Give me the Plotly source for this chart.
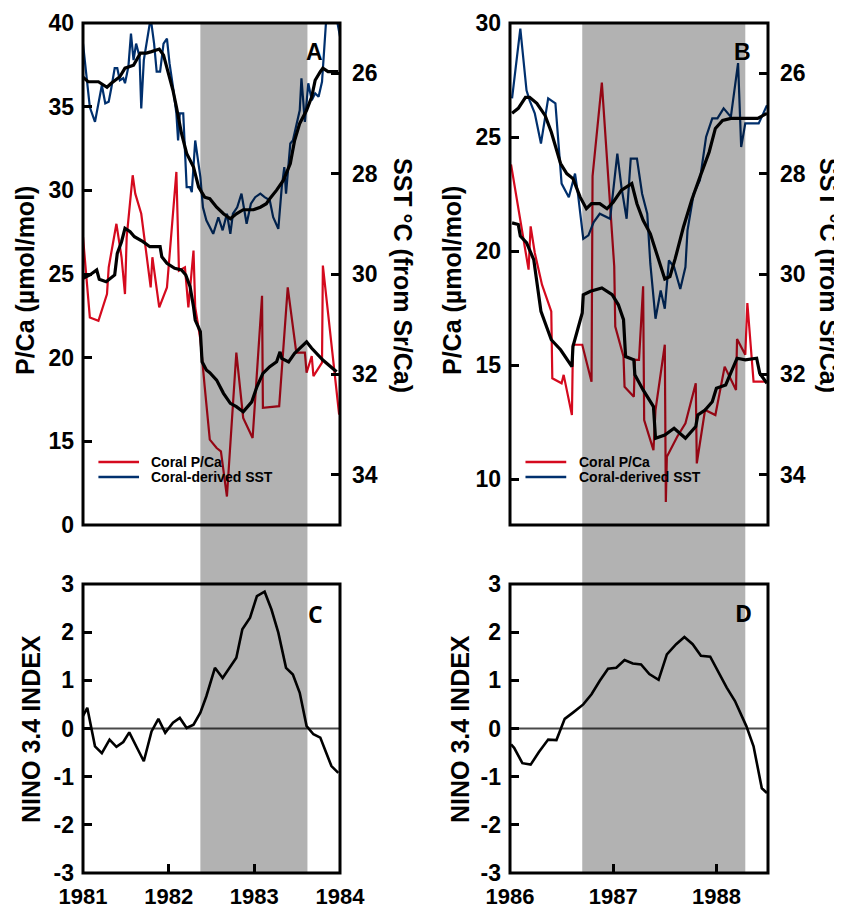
import plotly.graph_objects as go

# ---------------- data ----------------
A_PCA_T = [1981.00,1981.08,1981.18,1981.28,1981.30,1981.39,1981.45,1981.49,1981.51,1981.58,1981.61,1981.68,1981.74,1981.79,1981.81,1981.89,1981.98,1982.09,1982.12,1982.19,1982.23,1982.29,1982.31,1982.37,1982.42,1982.48,1982.56,1982.61,1982.68,1982.79,1982.87,1982.98,1983.09,1983.10,1983.29,1983.39,1983.49,1983.59,1983.61,1983.67,1983.69,1983.79,1983.80,1983.94,1983.99]
A_PCA_V = [27.2,22.4,22.2,23.8,25.4,28.0,26.0,23.8,27.2,30.9,29.8,28.6,26.2,24.2,26.0,23.0,24.2,31.1,25.2,25.4,23.0,26.4,23.0,21.1,18.3,15.1,14.6,14.4,11.7,20.3,16.4,15.2,23.7,17.0,17.1,24.2,20.3,20.3,19.1,20.1,18.9,19.7,25.5,19.1,16.6]
A_SST_T = [1981.00,1981.08,1981.14,1981.19,1981.22,1981.26,1981.30,1981.33,1981.37,1981.40,1981.43,1981.47,1981.49,1981.53,1981.56,1981.59,1981.62,1981.66,1981.68,1981.71,1981.76,1981.79,1981.83,1981.86,1981.90,1981.94,1981.98,1982.01,1982.05,1982.09,1982.11,1982.13,1982.17,1982.20,1982.21,1982.25,1982.27,1982.31,1982.35,1982.37,1982.40,1982.44,1982.52,1982.58,1982.63,1982.68,1982.72,1982.75,1982.80,1982.85,1982.91,1982.96,1983.01,1983.07,1983.12,1983.18,1983.22,1983.28,1983.32,1983.35,1983.37,1983.42,1983.45,1983.49,1983.53,1983.55,1983.59,1983.63,1983.67,1983.71,1983.75,1983.79,1983.84,1983.96,1984.00]
A_SST_V = [25.41,26.68,26.97,26.47,26.24,26.60,26.57,26.30,25.90,25.90,26.14,26.10,26.20,25.87,25.21,25.74,25.41,25.67,26.70,25.74,25.24,24.90,25.41,25.97,25.97,25.41,25.31,25.80,26.27,26.80,27.34,26.80,26.80,27.80,28.27,28.27,28.37,27.34,27.87,28.07,28.67,28.93,29.20,28.87,29.13,28.80,29.20,28.80,28.67,28.40,29.00,28.60,28.47,28.40,28.47,28.53,28.87,29.10,28.27,27.87,28.40,27.40,27.34,27.07,26.74,26.10,26.97,26.20,26.54,26.40,26.47,26.17,24.90,24.90,25.27]
A_PCA_SM_T = [1981.00,1981.08,1981.16,1981.19,1981.27,1981.32,1981.37,1981.40,1981.45,1981.49,1981.55,1981.60,1981.70,1981.78,1981.90,1981.92,1981.98,1982.07,1982.15,1982.20,1982.25,1982.29,1982.31,1982.37,1982.39,1982.44,1982.48,1982.56,1982.64,1982.72,1982.79,1982.87,1982.97,1983.03,1983.10,1983.18,1983.26,1983.30,1983.32,1983.40,1983.47,1983.53,1983.61,1983.67,1983.80,1983.96]
A_PCA_SM_V = [24.74,24.94,25.24,24.68,24.54,24.74,24.94,26.23,26.93,27.73,27.53,27.23,26.93,26.63,26.63,26.03,25.64,25.34,25.24,24.94,24.24,23.04,22.25,21.55,19.75,19.26,19.10,18.66,17.87,17.27,17.07,16.77,17.36,18.26,19.06,19.46,19.75,20.35,19.96,19.75,20.26,20.56,20.95,20.56,19.86,19.16]
A_SST_SM_T = [1981.00,1981.06,1981.18,1981.28,1981.33,1981.37,1981.43,1981.49,1981.59,1981.67,1981.74,1981.80,1981.89,1981.94,1982.00,1982.05,1982.09,1982.15,1982.21,1982.29,1982.35,1982.42,1982.48,1982.56,1982.64,1982.72,1982.79,1982.87,1982.99,1983.07,1983.14,1983.18,1983.26,1983.34,1983.42,1983.47,1983.53,1983.61,1983.67,1983.71,1983.77,1983.80,1983.86,1983.98]
A_SST_SM_V = [26.08,26.17,26.17,26.28,26.20,26.14,26.07,25.90,25.84,25.60,25.60,25.57,25.52,25.64,26.00,26.34,26.67,27.20,27.60,27.87,28.27,28.47,28.50,28.67,28.80,28.90,28.80,28.72,28.72,28.67,28.60,28.50,28.33,28.13,27.80,27.34,27.00,26.74,26.47,26.14,25.97,25.90,25.97,25.97]

B_PCA_T = [1986.01,1986.08,1986.16,1986.18,1986.20,1986.24,1986.31,1986.40,1986.41,1986.50,1986.52,1986.60,1986.61,1986.70,1986.79,1986.80,1986.89,1987.01,1987.02,1987.10,1987.11,1987.20,1987.21,1987.25,1987.29,1987.30,1987.39,1987.41,1987.50,1987.51,1987.52,1987.62,1987.70,1987.80,1987.81,1987.89,1987.99,1988.08,1988.19,1988.20,1988.28,1988.30,1988.36,1988.49]
B_PCA_V = [23.80,21.83,19.72,19.19,21.09,19.93,18.53,17.36,14.43,14.21,14.58,12.82,15.90,15.90,14.28,23.29,27.39,19.34,16.70,15.38,14.06,13.62,15.24,15.24,18.46,12.60,11.28,13.04,15.90,9.01,10.99,11.87,12.46,14.21,10.70,13.04,12.82,14.94,13.92,16.15,15.46,17.73,14.28,14.28]
B_SST_T = [1986.02,1986.10,1986.16,1986.19,1986.24,1986.30,1986.37,1986.44,1986.50,1986.57,1986.63,1986.66,1986.71,1986.76,1986.81,1986.87,1986.97,1987.04,1987.08,1987.13,1987.17,1987.23,1987.28,1987.33,1987.36,1987.41,1987.46,1987.50,1987.54,1987.59,1987.65,1987.70,1987.72,1987.78,1987.84,1987.90,1987.96,1988.01,1988.07,1988.14,1988.21,1988.24,1988.28,1988.41,1988.49]
B_SST_V = [26.50,25.11,26.34,26.54,26.80,27.40,26.50,26.60,28.20,28.47,28.00,28.43,29.30,29.23,28.97,28.80,28.90,27.60,28.27,28.90,27.70,27.70,28.40,28.80,29.80,30.89,30.33,30.69,29.73,29.86,30.30,29.86,29.13,28.40,28.13,27.27,26.90,26.90,26.70,26.87,25.80,27.47,27.00,27.00,26.64]
B_PCA_SM_T = [1986.02,1986.08,1986.10,1986.16,1986.23,1986.30,1986.40,1986.49,1986.60,1986.61,1986.70,1986.71,1986.78,1986.89,1986.99,1987.05,1987.10,1987.12,1987.20,1987.21,1987.29,1987.39,1987.41,1987.50,1987.59,1987.70,1987.80,1987.82,1987.89,1987.96,1988.00,1988.09,1988.20,1988.28,1988.39,1988.42,1988.49]
B_PCA_SM_V = [21.24,21.17,20.66,20.37,19.63,17.36,16.12,15.68,14.94,15.82,17.29,18.09,18.24,18.39,18.09,17.65,17.00,15.38,15.24,14.58,13.92,13.19,11.80,11.94,12.24,11.80,12.31,12.82,13.04,13.40,13.99,14.14,15.31,15.24,15.31,14.65,14.21]
B_SST_SM_T = [1986.02,1986.08,1986.15,1986.19,1986.26,1986.34,1986.40,1986.49,1986.55,1986.61,1986.68,1986.74,1986.79,1986.87,1986.94,1987.00,1987.08,1987.18,1987.23,1987.29,1987.36,1987.42,1987.47,1987.50,1987.55,1987.60,1987.68,1987.76,1987.84,1987.93,1987.99,1988.06,1988.14,1988.40,1988.49]
B_SST_SM_V = [26.80,26.70,26.48,26.48,26.60,26.84,27.17,27.80,28.00,28.10,28.47,28.70,28.60,28.60,28.70,28.57,28.33,28.20,28.60,28.93,29.20,29.60,29.93,30.10,30.05,29.70,29.07,28.53,28.07,27.57,27.10,26.94,26.90,26.90,26.80]

C_NINO_T = [1981.00,1981.05,1981.14,1981.22,1981.31,1981.39,1981.47,1981.54,1981.63,1981.71,1981.80,1981.88,1981.96,1982.05,1982.13,1982.21,1982.29,1982.37,1982.44,1982.54,1982.63,1982.71,1982.79,1982.86,1982.95,1983.03,1983.12,1983.20,1983.28,1983.37,1983.45,1983.53,1983.61,1983.69,1983.77,1983.84,1983.90,1983.98]
C_NINO_V = [0.26,0.43,-0.37,-0.51,-0.23,-0.38,-0.28,-0.08,-0.40,-0.68,-0.06,0.20,-0.09,0.12,0.22,0.01,0.08,0.33,0.67,1.26,1.05,1.26,1.47,2.06,2.30,2.75,2.84,2.47,1.99,1.26,1.12,0.74,0.05,-0.12,-0.19,-0.51,-0.78,-0.92]
D_NINO_T = [1986.01,1986.04,1986.12,1986.20,1986.28,1986.37,1986.45,1986.53,1986.61,1986.71,1986.79,1986.87,1986.95,1987.03,1987.11,1987.19,1987.27,1987.35,1987.44,1987.52,1987.61,1987.69,1987.77,1987.85,1987.94,1988.02,1988.10,1988.18,1988.24,1988.29,1988.36,1988.40,1988.44,1988.49]
D_NINO_V = [-0.33,-0.40,-0.72,-0.75,-0.49,-0.23,-0.24,0.20,0.33,0.50,0.71,0.99,1.24,1.26,1.42,1.35,1.33,1.13,1.01,1.54,1.75,1.90,1.75,1.51,1.49,1.16,0.85,0.57,0.29,0.05,-0.37,-0.78,-1.24,-1.34]

SHADE_A = [1982.37, 1983.62]
SHADE_B = [1986.70, 1988.28]

A_LEFT_TICKS = [10, 15, 20, 25, 30, 35, 40]
A_LEFT_TEXT = ["0", "15", "20", "25", "30", "35", "40"]
B_LEFT_TICKS = [10, 15, 20, 25, 30]
SST_TICKS = [26, 28, 30, 32, 34]
NINO_TICKS = [-3, -2, -1, 0, 1, 2, 3]
NINO_TEXT = ["-3", "-2", "-1", "0", "1", "2", "3"]
C_YEARS = [1981, 1982, 1983, 1984]
D_YEARS = [1986, 1987, 1988]

# ---------------- style ----------------
PAGE_OFF = 8            # default body margin of the html page
W, H = 842 - PAGE_OFF, 911 - PAGE_OFF
RED = "#d50a1e"
BLUE = "#00306e"
FONT = "Liberation Sans, Arial, sans-serif"
TICKFONT = dict(family=FONT, size=23, color="black", weight="bold")
XTICKFONT = dict(family=FONT, size=22, color="black", weight="bold")


def fx(px):
    return (px - PAGE_OFF) / W


def fy(py):
    return 1 - (py - PAGE_OFF) / H


XA = [fx(83), fx(340)]
XB = [fx(510), fx(768)]
YTOP = [fy(525), fy(23)]
YBOT = [fy(873), fy(584)]

fig = go.Figure()


def line(x, y, xa, ya, color, width):
    fig.add_trace(go.Scatter(x=x, y=y, xaxis=xa, yaxis=ya, mode="lines",
                             line=dict(color=color, width=width),
                             showlegend=False, hoverinfo="skip"))


line(A_PCA_T, A_PCA_V, "x", "y", RED, 2.2)
line(A_SST_T, A_SST_V, "x", "y2", BLUE, 2.2)
line(A_PCA_SM_T, A_PCA_SM_V, "x", "y", "black", 3.2)
line(A_SST_SM_T, A_SST_SM_V, "x", "y2", "black", 3.2)
line(B_PCA_T, B_PCA_V, "x2", "y3", RED, 2.2)
line(B_SST_T, B_SST_V, "x2", "y4", BLUE, 2.2)
line(B_PCA_SM_T, B_PCA_SM_V, "x2", "y3", "black", 3.2)
line(B_SST_SM_T, B_SST_SM_V, "x2", "y4", "black", 3.2)
line(C_NINO_T, C_NINO_V, "x3", "y5", "black", 2.6)
line(D_NINO_T, D_NINO_V, "x4", "y6", "black", 2.6)

BASE = dict(automargin=False, showgrid=False, zeroline=False, showline=False,
            ticks="inside", ticklen=9, tickwidth=3, tickcolor="black")
YL = dict(ticklabelstandoff=8, tickfont=TICKFONT, **BASE)
YR = dict(ticklabelstandoff=11, tickfont=TICKFONT, **BASE)
XL = dict(ticklabelstandoff=8, tickfont=XTICKFONT, **BASE)

fig.update_layout(
    template="none",
    width=W, height=H, margin=dict(l=0, r=0, t=0, b=0, pad=0),
    paper_bgcolor="white", plot_bgcolor="rgba(0,0,0,0)",
    showlegend=False,
    font=dict(family=FONT, color="black"),
    xaxis=dict(domain=XA, anchor="y", range=[1981, 1984], tickvals=C_YEARS,
               showticklabels=False, **XL),
    yaxis=dict(domain=YTOP, anchor="x", range=[10, 40], tickvals=A_LEFT_TICKS,
               ticktext=A_LEFT_TEXT, **YL),
    yaxis2=dict(overlaying="y", side="right", anchor="x", range=[35, 25],
                tickvals=SST_TICKS, **YR),
    xaxis2=dict(domain=XB, anchor="y3", range=[1986, 1988.5],
                tickvals=D_YEARS, showticklabels=False, **XL),
    yaxis3=dict(domain=YTOP, anchor="x2", range=[8, 30], tickvals=B_LEFT_TICKS,
                **YL),
    yaxis4=dict(overlaying="y3", side="right", anchor="x2", range=[35, 25],
                tickvals=SST_TICKS, **YR),
    xaxis3=dict(domain=XA, anchor="y5", range=[1981, 1984], tickvals=C_YEARS,
                **XL),
    yaxis5=dict(domain=YBOT, anchor="x3", range=[-3, 3], tickvals=NINO_TICKS,
                ticktext=NINO_TEXT, **YL),
    xaxis4=dict(domain=XB, anchor="y6", range=[1986, 1988.5], tickvals=D_YEARS,
                **XL),
    yaxis6=dict(domain=YBOT, anchor="x4", range=[-3, 3], tickvals=NINO_TICKS,
                ticktext=NINO_TEXT, **YL),
)
fig.update_layout(xaxis_ticks="", xaxis2_ticks="")

# zero lines of the NINO panels
for xa, ya in (("x3", "y5"), ("x4", "y6")):
    fig.add_shape(type="line", xref=xa + " domain", yref=ya, x0=0, x1=1,
                  y0=0, y1=0, line=dict(color="#4a4a4a", width=2),
                  layer="below")

# shaded El Nino periods spanning top and bottom panels
for xref, (s0, s1) in (("x", SHADE_A), ("x2", SHADE_B)):
    fig.add_shape(type="rect", xref=xref, yref="paper", x0=s0, x1=s1,
                  y0=YBOT[0], y1=YTOP[1], fillcolor="rgba(0,0,0,0.3)",
                  line=dict(width=0), layer="above")

# panel frames
for xd in (XA, XB):
    for yd in (YTOP, YBOT):
        fig.add_shape(type="rect", xref="paper", yref="paper",
                      x0=xd[0], x1=xd[1], y0=yd[0], y1=yd[1],
                      line=dict(color="black", width=3), layer="above")

# legends
for xa, ya in (("x", "y"), ("x2", "y3")):
    for color, label, yd in ((RED, "Coral P/Ca", 0.1255),
                             (BLUE, "Coral-derived SST", 0.0956)):
        fig.add_shape(type="line", xref=xa + " domain", yref=ya + " domain",
                      x0=0.06, x1=0.218, y0=yd, y1=yd,
                      line=dict(color=color, width=2.5))
        fig.add_annotation(xref=xa + " domain", yref=ya + " domain",
                           x=0.258, y=yd, text=label, showarrow=False,
                           xanchor="left", yanchor="middle",
                           font=dict(family=FONT, size=14, color="black",
                                     weight="bold"))

TITLEFONT = dict(family=FONT, size=25, color="black", weight="bold")
titles = [
    ("P/Ca (µmol/mol)", 25, 281, -90),
    ("P/Ca (µmol/mol)", 452, 281, -90),
    ("SST °C (from Sr/Ca)", 403, 275, 90),
    ("SST °C (from Sr/Ca)", 829, 275, 90),
    ("NINO 3.4 INDEX", 31, 729, -90),
    ("NINO 3.4 INDEX", 460, 729, -90),
]
for text, px, py, ang in titles:
    fig.add_annotation(xref="paper", yref="paper", x=fx(px), y=fy(py),
                       text=text, showarrow=False, textangle=ang,
                       xanchor="center", yanchor="middle", font=TITLEFONT)

letters = [("A", 314, 52, FONT), ("B", 742, 52, FONT),
           ("C", 315, 614, "Open Sans, sans-serif"),
           ("D", 743, 613, "Open Sans, sans-serif")]
for text, px, py, fam in letters:
    fig.add_annotation(xref="paper", yref="paper", x=fx(px), y=fy(py),
                       text=text, showarrow=False, xanchor="center",
                       yanchor="middle",
                       font=dict(family=fam, size=23, color="black",
                                 weight="bold"))

fig.write_html("out.html")
